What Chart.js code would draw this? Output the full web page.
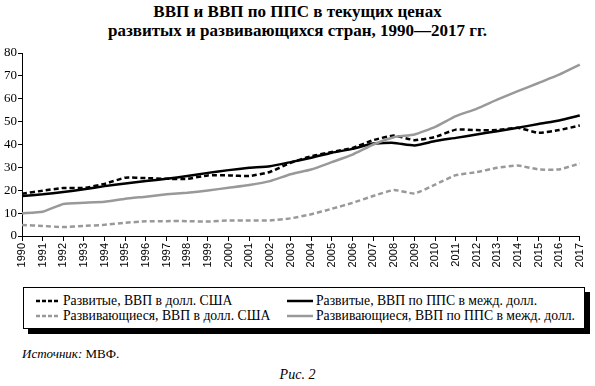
<!DOCTYPE html>
<html>
<head>
<meta charset="utf-8">
<script src="https://cdn.jsdelivr.net/npm/chart.js@4/dist/chart.umd.min.js"></script>
<style>
  body { margin: 0; width: 595px; height: 386px; background: #fff; position: relative; overflow: hidden;
         font-family: "Liberation Serif", "DejaVu Serif", serif; color: #000; }
  #title { position: absolute; left: 0; top: 2px; width: 595px; text-align: center;
           font-weight: bold; font-size: 17px; line-height: 19px; }
  #wrap { position: absolute; left: 0; top: 40px; width: 595px; height: 245px; }
  #legend { position: absolute; left: 23px; top: 287px; width: 560px; height: 40px;
            border: 1px solid #000; box-shadow: 5px 5px 0 #000; background: #fff; font-size: 13.7px; }
  .item { position: absolute; white-space: nowrap; line-height: 16px; }
  .item svg { vertical-align: middle; margin-right: 3px; position: relative; top: -1px; }
  #source { position: absolute; left: 22px; top: 346px; font-size: 13px; }
  #fig { position: absolute; left: 0; width: 595px; top: 367px; text-align: center; font-style: italic; font-size: 14px; }
</style>
</head>
<body>
<div id="title">ВВП и ВВП по ППС в текущих ценах<br>развитых и развивающихся стран, 1990—2017 гг.</div>
<div id="wrap"><canvas id="chart"></canvas></div>
<div id="legend">
  <div class="item" style="left:12px; top:5px;"><svg width="24" height="4"><line x1="0" y1="2" x2="24" y2="2" stroke="#000" stroke-width="2.5" stroke-dasharray="4,2"/></svg>Развитые, ВВП в долл. США</div>
  <div class="item" style="left:263px; top:5px;"><svg width="26" height="4"><line x1="0" y1="2" x2="26" y2="2" stroke="#000" stroke-width="2.5"/></svg>Развитые, ВВП по ППС в межд. долл.</div>
  <div class="item" style="left:12px; top:20px;"><svg width="24" height="4"><line x1="0" y1="2" x2="24" y2="2" stroke="#999" stroke-width="2.5" stroke-dasharray="4,2"/></svg>Развивающиеся, ВВП в долл. США</div>
  <div class="item" style="left:263px; top:20px;"><svg width="26" height="4"><line x1="0" y1="2" x2="26" y2="2" stroke="#999" stroke-width="2.5"/></svg>Развивающиеся, ВВП по ППС в межд. долл.</div>
</div>
<div id="source"><i>Источник:</i> МВФ.</div>
<div id="fig">Рис. 2</div>
<script>
const years = ['1990', '1991', '1992', '1993', '1994', '1995', '1996', '1997', '1998', '1999',
    '2000', '2001', '2002', '2003', '2004', '2005', '2006', '2007', '2008', '2009',
    '2010', '2011', '2012', '2013', '2014', '2015', '2016', '2017'];

// Развитые, ВВП в долл. США
const developedUsd = [18.5, 19.8, 21, 21, 22.8, 25.5, 25.3, 25, 25, 26.5,
    26.5, 26.2, 28, 32, 34.9, 36.7, 38.5, 41.9, 43.9, 41.9,
    43.3, 46.5, 46.3, 46.3, 47.3, 45.1, 46.3, 48.3];
// Развитые, ВВП по ППС в межд. долл.
const developedPpp = [17.5, 18.2, 19.2, 20.4, 21.8, 23, 24, 25, 26.2, 27.6,
    28.8, 29.8, 30.5, 32.3, 34.2, 36.4, 38.1, 40.4, 40.7, 39.6,
    41.5, 42.9, 44.4, 45.8, 47.3, 49, 50.5, 52.7];
// Развивающиеся, ВВП в долл. США
const developingUsd = [4.8, 4.4, 3.9, 4.4, 4.9, 5.8, 6.4, 6.5, 6.5, 6.3,
    6.8, 6.8, 6.8, 7.7, 9.5, 11.9, 14.5, 17.5, 20.1, 18.6,
    22.5, 26.6, 27.9, 29.8, 30.8, 29.1, 29.1, 31.7];
// Развивающиеся, ВВП по ППС в межд. долл.
const developingPpp = [9.9, 10.6, 14, 14.5, 15, 16.3, 17.2, 18.2, 18.9, 19.9,
    21.1, 22.3, 24, 27, 29.1, 32.3, 35.6, 40, 43.2, 44.4,
    47.7, 52.4, 55.6, 59.6, 63.3, 66.9, 70.5, 74.9];

const yTicks = [0, 10, 20, 30, 40, 50, 60, 70, 80];

const black = '#000';
const grey = '#999';

function series(label, data, color, dashed) {
    return {
        label: label,
        data: data,
        borderColor: color,
        borderWidth: 2.5,
        borderDash: dashed ? [5, 3] : [],
        pointRadius: 0,
        fill: false,
        tension: 0.15
    };
}

new Chart(document.getElementById('chart'), {
    type: 'line',
    data: {
        labels: years,
        datasets: [
            series('Развивающиеся, ВВП в долл. США', developingUsd, grey, true),
            series('Развивающиеся, ВВП по ППС в межд. долл.', developingPpp, grey, false),
            series('Развитые, ВВП по ППС в межд. долл.', developedPpp, black, false),
            series('Развитые, ВВП в долл. США', developedUsd, black, true)
        ]
    },
    options: {
        responsive: true,
        maintainAspectRatio: false,
        animation: false,
        layout: { padding: { top: 13, right: 10, left: 0, bottom: 0 } },
        plugins: { legend: { display: false }, tooltip: { enabled: false } },
        scales: {
            x: {
                offset: false,
                grid: { display: true, drawOnChartArea: false, drawTicks: true, tickLength: 5, color: black },
                border: { display: true, color: black, width: 1 },
                ticks: {
                    color: black, minRotation: 90, maxRotation: 90, autoSkip: false, padding: 2,
                    font: { family: 'Liberation Sans', size: 11 }
                },
                afterFit: function (scale) { scale.height = 49; }
            },
            y: {
                min: 0,
                max: 80,
                afterBuildTicks: function (scale) { scale.ticks = yTicks.map(v => ({ value: v })); },
                grid: { display: true, drawOnChartArea: false, drawTicks: true, tickLength: 4, color: black },
                border: { display: true, color: black, width: 1 },
                ticks: {
                    color: black, padding: 1,
                    font: { family: 'Liberation Serif', size: 13 }
                },
                afterFit: function (scale) { scale.width = 22; }
            }
        }
    }
});
</script>
</body>
</html>
